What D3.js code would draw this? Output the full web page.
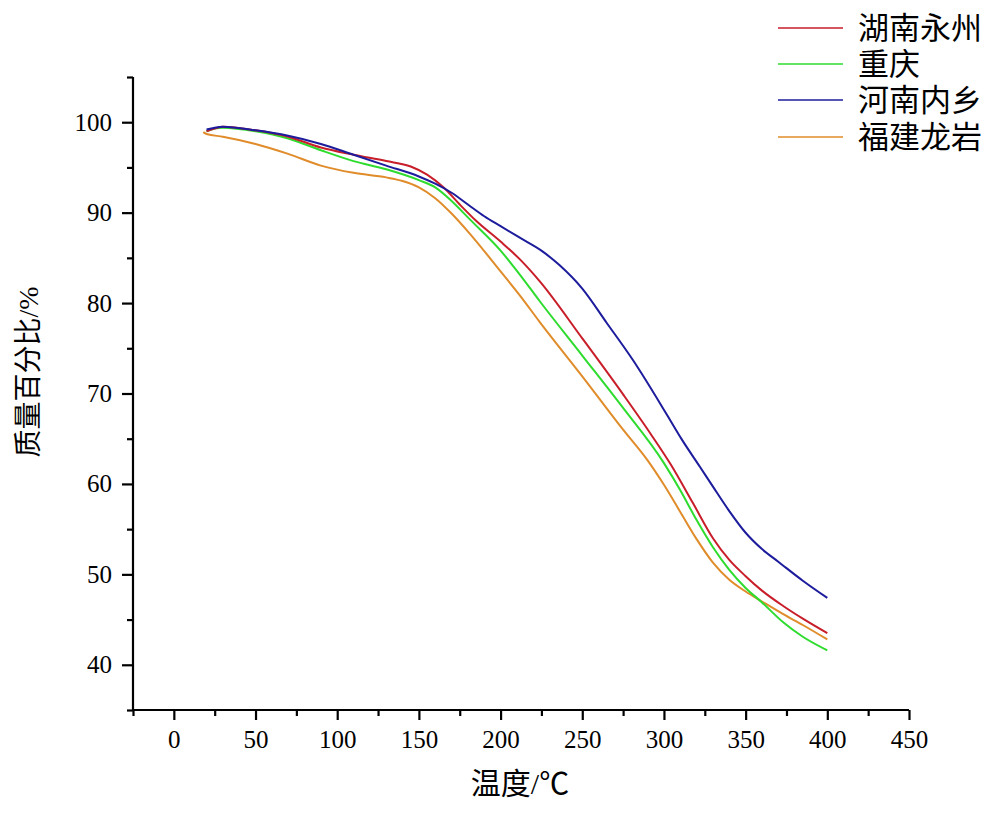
<!DOCTYPE html>
<html>
<head>
<meta charset="utf-8">
<script src="https://cdn.jsdelivr.net/npm/d3@7"></script>
<style>
  html, body { margin: 0; padding: 0; background: #fff; }
  svg { display: block; }
</style>
</head>
<body>
<svg id="chart" width="1000" height="814"></svg>
<script>
// ---- data ----
const seriesNames = ["湖南永州", "重庆", "河南内乡", "福建龙岩"];
const seriesColors = ["#c81e2a", "#2edc2e", "#1c1c9c", "#e08c2a"];

const tempHunan = [20, 25, 30, 50, 70, 90, 110, 130, 145, 155, 165, 175, 185, 200, 212, 224, 250, 275, 292, 304, 318, 330, 340, 350, 360, 373, 385, 400];
const massHunan = [99.0, 99.3, 99.5, 99.1, 98.4, 97.2, 96.4, 95.7, 95.1, 94.2, 92.8, 90.9, 89.1, 86.8, 84.8, 82.4, 76.1, 69.9, 65.5, 62.2, 57.8, 54.0, 51.6, 49.8, 48.2, 46.5, 45.1, 43.5];

const tempChongqing = [20, 25, 30, 50, 70, 90, 110, 130, 150, 160, 170, 181.5, 200, 212, 224, 250, 275, 300, 310, 320, 330, 340, 350, 360, 373, 385, 400];
const massChongqing = [99.0, 99.3, 99.4, 99.0, 98.2, 96.9, 95.7, 94.8, 93.6, 92.8, 91.3, 89.2, 85.8, 83.1, 80.2, 74.2, 68.4, 62.3, 59.3, 56.0, 53.0, 50.5, 48.5, 46.9, 44.7, 43.1, 41.6];

const tempHenan = [20, 25, 30, 50, 70, 90, 110, 130, 150, 160, 170, 180, 190, 200, 212, 225, 236, 250, 265, 281, 302, 311, 322, 330, 340, 350, 360, 370, 385, 400];
const massHenan = [99.2, 99.4, 99.5, 99.1, 98.5, 97.6, 96.4, 95.2, 94.0, 93.2, 92.2, 90.9, 89.6, 88.5, 87.2, 85.8, 84.2, 81.6, 77.8, 73.7, 67.6, 64.9, 61.9, 59.7, 57.0, 54.6, 52.8, 51.4, 49.3, 47.4];

const tempFujian = [18, 20, 30, 50, 70, 90, 110, 130, 140, 150, 160, 170, 181.5, 200, 212, 224, 250, 275, 290, 300, 310, 320, 330, 340, 350, 360, 373, 385, 400];
const massFujian = [98.9, 98.7, 98.4, 97.6, 96.5, 95.2, 94.4, 93.9, 93.5, 92.8, 91.6, 89.9, 87.6, 83.5, 80.8, 77.9, 71.9, 66.0, 62.6, 59.9, 56.9, 53.9, 51.3, 49.4, 48.1, 47.0, 45.6, 44.4, 42.8];

const xMajorTicks = [0, 50, 100, 150, 200, 250, 300, 350, 400, 450];
const xMinorTicks = [-25, 25, 75, 125, 175, 225, 275, 325, 375, 425];
const yMajorTicks = [40, 50, 60, 70, 80, 90, 100];
const yMinorTicks = [35, 45, 55, 65, 75, 85, 95, 105];
const xLabel = "温度/℃";
const yLabel = "质量百分比/%";

// ---- drawing ----
const svg = d3.select("#chart");
const x = d3.scaleLinear().domain([-25, 450]).range([133, 909]);
const y = d3.scaleLinear().domain([35, 105]).range([710, 77]);

const series = [
  { name: seriesNames[0], color: seriesColors[0], t: tempHunan, m: massHunan },
  { name: seriesNames[1], color: seriesColors[1], t: tempChongqing, m: massChongqing },
  { name: seriesNames[2], color: seriesColors[2], t: tempHenan, m: massHenan },
  { name: seriesNames[3], color: seriesColors[3], t: tempFujian, m: massFujian }
];

const line = d3.line().x(d => x(d[0])).y(d => y(d[1])).curve(d3.curveMonotoneX);

// draw order: orange, green, red, blue
[3, 1, 0, 2].forEach(i => {
  const s = series[i];
  svg.append("path")
    .datum(s.t.map((t, k) => [t, s.m[k]]))
    .attr("fill", "none")
    .attr("stroke", s.color)
    .attr("stroke-width", 2)
    .attr("stroke-linejoin", "round")
    .attr("d", line);
});

// axes
const serif = "'Liberation Serif', 'DejaVu Serif', serif";
const xAxis = d3.axisBottom(x).tickValues(xMajorTicks).tickSize(10).tickPadding(10).tickFormat(d3.format("d"));
const gx = svg.append("g").attr("transform", "translate(0,710)").call(xAxis);
gx.select(".domain").attr("d", `M${x(-25)},0H${x(450)}`).attr("stroke-width", 2.2);
gx.selectAll(".tick line").attr("stroke-width", 2.2);
gx.selectAll("text").attr("font-family", serif).attr("font-size", 25).attr("fill", "#000");
svg.append("g").attr("transform", "translate(0,710)")
  .call(d3.axisBottom(x).tickValues(xMinorTicks).tickSize(6).tickFormat(""))
  .call(g => g.select(".domain").remove())
  .selectAll(".tick line").attr("stroke-width", 2.2);

const yAxis = d3.axisLeft(y).tickValues(yMajorTicks).tickSize(11).tickPadding(10).tickFormat(d3.format("d"));
const gy = svg.append("g").attr("transform", "translate(133,0)").call(yAxis);
gy.select(".domain").attr("d", `M0,${y(105)}V${y(35)}`).attr("stroke-width", 2.2);
gy.selectAll(".tick line").attr("stroke-width", 2.2);
gy.selectAll("text").attr("font-family", serif).attr("font-size", 25).attr("fill", "#000");
svg.append("g").attr("transform", "translate(133,0)")
  .call(d3.axisLeft(y).tickValues(yMinorTicks).tickSize(6).tickFormat(""))
  .call(g => g.select(".domain").remove())
  .selectAll(".tick line").attr("stroke-width", 2.2);

const cjk = "'Liberation Serif', 'Noto Sans CJK SC', 'Noto Sans', sans-serif";
svg.append("text")
  .attr("x", 520).attr("y", 794)
  .attr("text-anchor", "middle")
  .attr("font-family", cjk).attr("font-size", 30).attr("fill", "#000")
  .text(xLabel);

svg.append("text")
  .attr("transform", "translate(38,372) rotate(-90)")
  .attr("text-anchor", "middle")
  .attr("font-family", cjk).attr("font-size", 28).attr("fill", "#000")
  .text(yLabel);

// legend
const legendY = [28, 64, 100, 137];
const legend = svg.append("g");
series.forEach((s, i) => {
  legend.append("line")
    .attr("x1", 778).attr("x2", 843)
    .attr("y1", legendY[i]).attr("y2", legendY[i])
    .attr("stroke", s.color).attr("stroke-width", 1.5);
  legend.append("text")
    .attr("x", 858).attr("y", legendY[i])
    .attr("dy", "0.36em")
    .attr("font-family", cjk).attr("font-size", 31).attr("fill", "#000")
    .text(s.name);
});
</script>
</body>
</html>
